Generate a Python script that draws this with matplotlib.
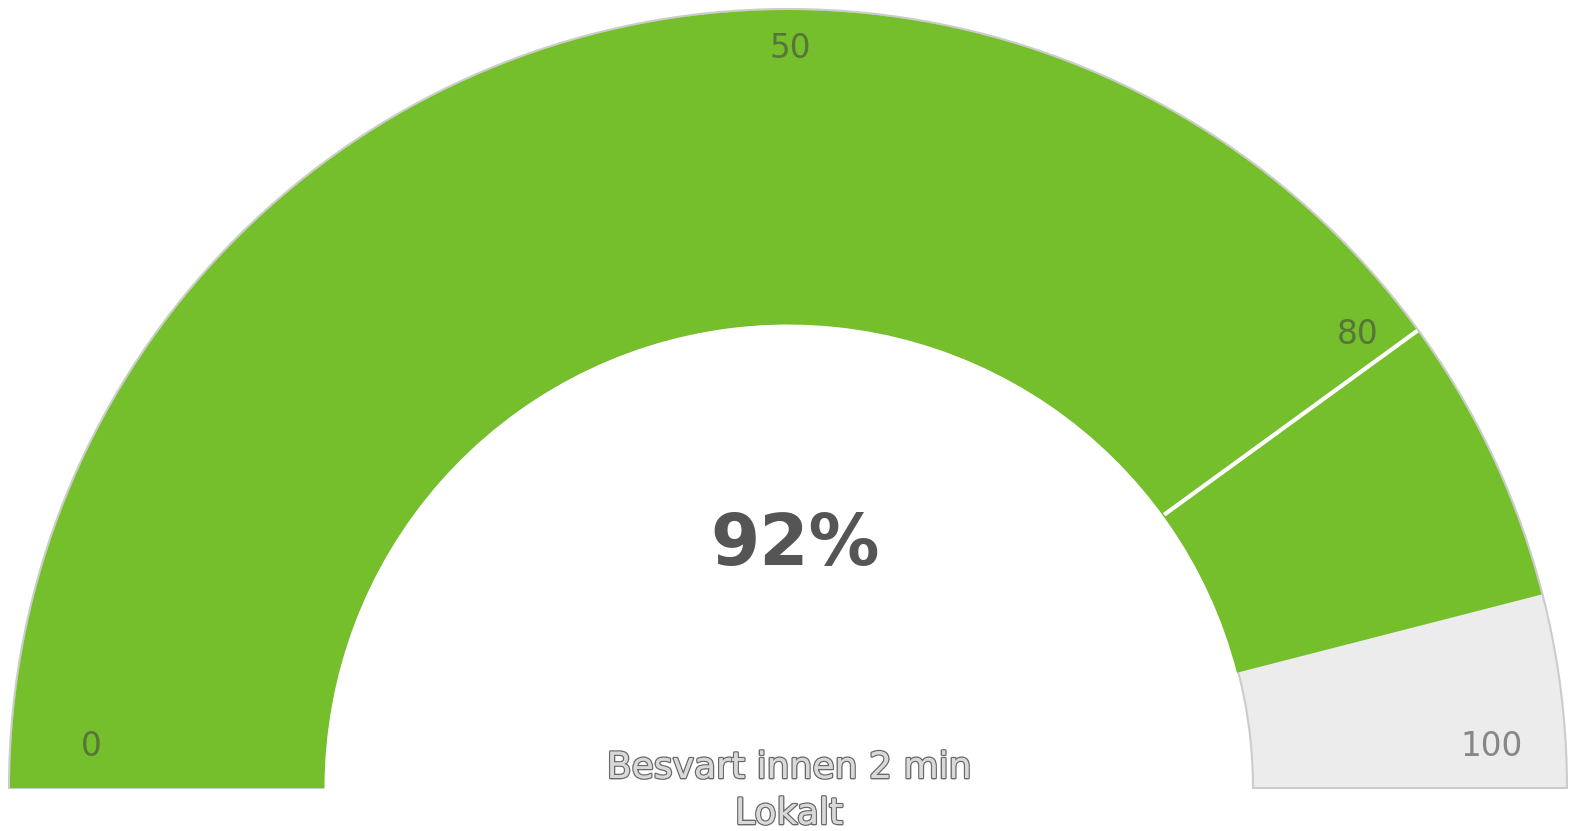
import numpy as np
import matplotlib
matplotlib.use("Agg")
import matplotlib.pyplot as plt
from matplotlib.patches import Wedge
import matplotlib.patheffects as pe

# Data
gauge_min = 0
gauge_max = 100
value = 92
plot_line_value = 80
tick_values = [0, 50, 80, 100]
title_lines = ["Besvart innen 2 min", "Lokalt"]

W, H = 1576, 831
fig = plt.figure(figsize=(W / 100, H / 100), dpi=100)
ax = fig.add_axes([0, 0, 1, 1])
ax.set_xlim(0, W)
ax.set_ylim(0, H)
ax.axis("off")

cx, cy = 788, H - 788
R_out, R_in = 778, 465
width = R_out - R_in


def ang(v):
    return 180 - 180 * (v - gauge_min) / (gauge_max - gauge_min)


# background pane
ax.add_patch(Wedge((cx, cy), R_out + 1, 0, 180, width=width + 1,
                   facecolor="#ececec", edgecolor="#cccccc", linewidth=1.5, zorder=1))
# value band
ax.add_patch(Wedge((cx, cy), R_out, ang(value), 180, width=width + 1.5,
                   facecolor="#74bf2b", edgecolor="none", zorder=2))
# plot line at 80
a = np.deg2rad(ang(plot_line_value))
ax.plot([cx + R_in * np.cos(a), cx + R_out * np.cos(a)],
        [cy + R_in * np.sin(a), cy + R_out * np.sin(a)],
        color="white", linewidth=3, zorder=3, solid_capstyle="butt")

# tick labels
label_pos = {0: (91, 746), 50: (790, 49), 80: (1358, 335), 100: (1492, 746)}
for t in tick_values:
    x, y = label_pos[t]
    ax.text(x, H - y, str(t), ha="center", va="center", fontsize=23.5,
            color="#444444", alpha=0.6, zorder=4, family="DejaVu Sans")

# center value
ax.text(795, H - 545, f"{value}%", ha="center", va="center", fontsize=51,
        fontweight="bold", color="#555555", zorder=4, family="DejaVu Sans")

# title
for i, line in enumerate(title_lines):
    ax.text(789, H - (768 + i * 46), line, ha="center", va="center", fontsize=26,
            color="#d9d9d9", zorder=4, family="DejaVu Sans",
            path_effects=[pe.withStroke(linewidth=2, foreground="#6a6a6a"), pe.Normal()])

fig.savefig("out.png", dpi=100)
